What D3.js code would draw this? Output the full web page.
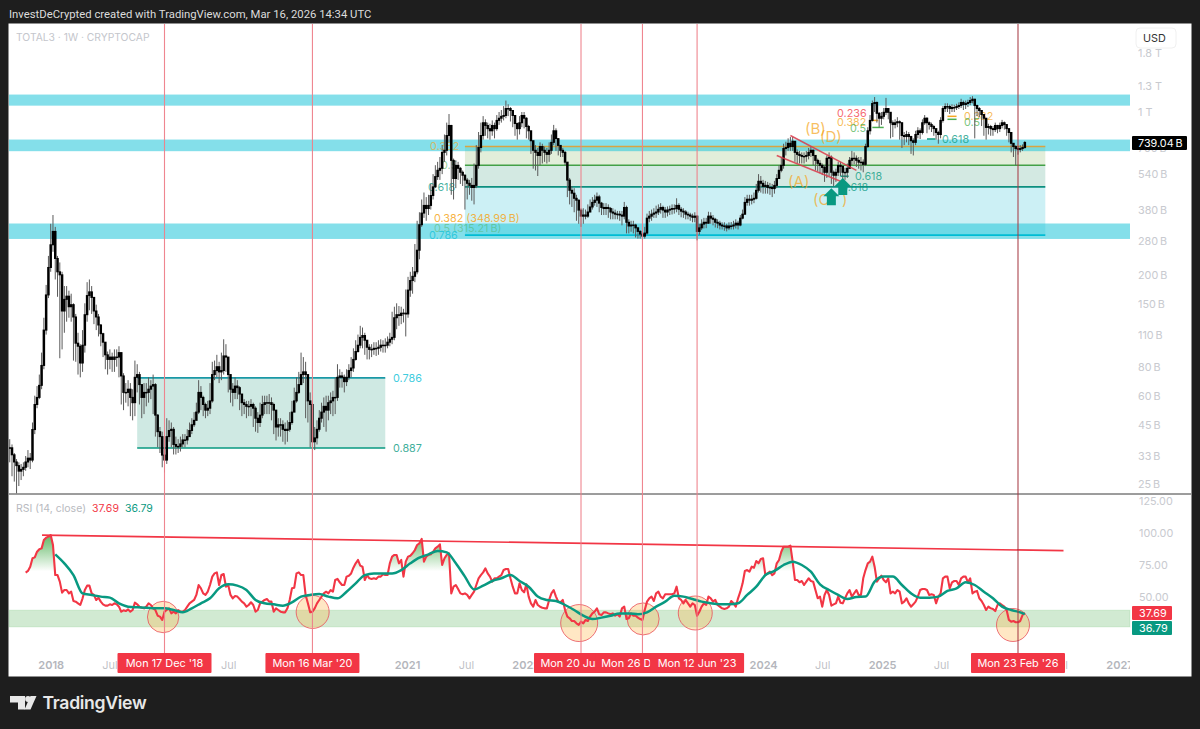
<!DOCTYPE html>
<html>
<head>
<meta charset="utf-8">
<script src="https://cdn.jsdelivr.net/npm/d3@7"></script>
<style>
  html, body { margin: 0; background: #1e1e1e; }
  svg { display: block; font-family: Inter, Roboto, sans-serif; }
</style>
</head>
<body>
<svg id="chart" width="1200" height="729"></svg>
<script>
// TOTAL3 weekly, billions. One entry per week from 28 Aug 2017
const closes = [
35.8,33.4,31.1,30,28.4,28.9,29.5,31.1,32.3,31.7,
42.9,55,59,66.5,81,115,163,214,268,306,
234,205,199,139,156,161,145,148,131,101,
98,83,99,134,162,168,159,139,131,121,
111,102,90,86,88,86,88,88,92,73,
62,62,64,59,56,72,74,67,59,62,
62,64,66,67,49.5,42,40,33.3,31.7,40,
42.5,43,37,36.3,36.3,37.2,38.7,38.7,40,42.5,
45,47,51,62,59,55,52,53,57,74,
77,80,76,77,89,88,74,64,62,66,
65,61,56,55,54,54,55,53,48,46,
49.5,55,56,56,56,55,52,44,45,45,
43,42.5,43,46,51,57,62,67,74,76,
74,57,55,38,39.5,43,48,51,54,52,
56,57,59,59,72,73,72,69,72,77,
79,86,93,99,107,109,104,97,95,95,
96,96,97,99,99,99,102,105,107,130,
134,133,136,136,135,171,188,196,205,254,
327,367,396,384,396,437,476,527,561,572,
670,684,792,875,619,517,589,572,550,534,
509,493,483,473,483,589,703,792,899,875,
848,830,875,848,920,940,958,966,1035,1035,
1015,966,892,848,899,966,940,866,830,752,
684,670,650,710,684,670,657,684,740,830,
768,718,684,670,608,509,460,447,425,417,
378,356,360,356,371,390,408,417,431,405,
388,384,388,384,371,367,363,363,360,356,
388,335,323,326,326,317,306,298,292,301,
349,356,363,367,371,381,388,378,371,378,
381,384,384,396,381,374,371,363,360,356,
352,356,306,317,329,335,332,356,349,345,
335,332,326,323,323,317,323,323,326,332,
326,349,363,408,421,417,421,425,460,503,
493,478,483,473,473,468,483,517,561,589,
696,703,733,710,748,670,657,650,644,644,
650,670,684,650,619,601,589,577,550,632,
638,550,534,550,589,583,550,550,572,619,
632,632,619,608,608,595,710,830,920,1088,
1099,987,940,958,997,1035,997,899,883,899,
908,899,792,784,800,784,752,740,800,830,
816,899,940,899,883,866,848,816,800,920,
1035,1056,1056,1035,1046,1046,1056,1067,1099,1077,
1088,1099,1120,1135,1067,1035,1015,975,940,858,
866,848,840,875,848,875,899,883,848,816,
733,710,696,690,696,703,739.04]

const highs = [
39,37,34,32,31,30.5,31,33,35,34,
46,60,66,74,92,130,180,240,330,360,
320,240,225,205,178,178,170,165,150,135,
112,100,115,150,185,190,178,160,148,135,
122,112,100,93,95,92,95,95,98,92,
75,68,70,68,64,85,82,76,67,68,
68,72,70,74,68,50,44,42,36,48,
47,46,44,40,39,40,41,41,43,46,
48,51,56,70,66,60,56,57,68,84,
85,90,84,92,105,100,88,72,68,72,
70,66,60,58,57,57,58,56,54,51,
56,60,60,60,61,59,56,48,48,48,
47,46,47,51,57,65,72,76,92,88,
84,66,62,56,44,47,52,56,59,60,
60,62,63,72,82,78,76,74,78,82,
88,96,104,110,120,118,112,102,100,100,
102,102,104,105,104,106,108,112,138,145,
150,146,145,142,172,195,205,215,270,340,
370,420,450,430,440,490,540,590,610,640,
720,800,900,980,880,630,620,610,580,560,
540,520,510,520,600,720,820,900,960,930,
900,890,920,900,970,1000,1020,1060,1120,1080,
1050,1000,930,900,960,1000,1000,950,880,790,
740,720,700,740,730,710,700,740,800,880,
850,770,720,700,680,600,520,480,470,440,
420,385,385,380,400,420,430,440,450,440,
410,405,405,400,390,385,380,375,375,375,
410,395,345,340,340,330,320,310,305,320,
365,375,380,385,395,400,405,395,390,392,
395,400,400,425,405,390,385,378,372,368,
365,370,360,330,345,350,350,372,370,360,
350,345,340,335,335,330,335,336,340,345,
340,360,380,430,440,440,440,450,490,540,
530,510,505,500,495,490,505,540,590,640,
730,745,770,780,780,750,690,680,670,670,
680,700,710,690,650,630,620,600,590,650,
670,650,560,570,610,610,590,575,600,640,
680,670,650,640,640,625,730,860,970,1120,
1160,1110,1000,1000,1040,1150,1040,960,920,930,
950,920,905,820,830,820,790,770,830,860,
850,930,970,950,910,900,880,850,830,950,
1060,1090,1090,1075,1080,1075,1085,1100,1140,1120,
1120,1130,1160,1170,1140,1075,1050,1010,980,900,
890,880,870,900,880,900,925,910,885,850,
820,735,720,715,720,725,750]

const lows = [
31,27,25.6,22.8,24.5,26,27,28.5,29.5,29,
31,41,53,58,64,78,110,158,205,250,
190,160,87,95,112,125,130,125,85,84,
74,72,76,92,125,140,135,122,115,108,
98,88,78,74,78,76,76,80,72,55,
52,56,54,49,47,49,62,55,48,50,
54,56,58,50,40,36,34,29.5,28,30.5,
38,36,33.5,33.5,34,34.5,36,36,37,40,
41,44,47,50,52,49,48,49,50,56,
70,72,68,70,74,76,62,56,54,58,
58,52,49,50,48,49,49,44,42,41.5,
44,48,50,50,50,47,41,38.5,40,40,
38,37,38,42,45,51,56,61,70,68,
48,46,36,26,35,37,42,46,44,42,
47,50,49,50,57,65,65,62,66,70,
72,76,85,92,96,96,90,86,86,88,
90,89,90,93,92,92,96,98,100,104,
116,120,122,124,108,130,160,165,185,200,
232,320,350,340,360,380,420,470,510,510,
540,610,650,740,440,420,470,510,490,480,
380,420,440,415,400,470,570,670,760,790,
770,760,790,770,830,880,900,920,940,960,
910,860,790,760,800,860,850,770,760,660,
570,560,530,590,600,610,600,610,660,720,
680,650,640,640,590,430,400,390,370,340,
330,320,330,345,350,370,380,395,390,370,
360,360,360,350,345,345,345,345,340,325,
345,300,300,305,300,288,285,285,283,285,
295,335,340,350,350,360,365,350,350,355,
360,362,365,370,360,352,350,345,345,340,
335,335,280,296,310,315,316,330,330,325,
318,316,312,312,308,306,310,312,312,315,
312,322,345,360,395,395,400,405,420,450,
450,445,445,445,440,430,445,470,515,550,
570,650,680,680,680,610,600,600,600,600,
610,625,640,590,560,555,545,535,500,520,
530,490,480,500,530,530,500,510,520,580,
590,595,580,570,560,550,585,700,800,910,
1000,900,860,880,930,970,930,770,780,850,
860,760,700,720,740,720,660,650,720,770,
765,800,880,810,840,820,790,760,730,770,
900,1000,1000,980,1000,1000,1020,1030,1040,1020,
1030,1050,1070,1090,770,960,950,870,790,760,
800,790,790,820,810,820,850,840,790,740,
670,640,590,655,670,680,695]

// RSI(14) starts on week 7
const rsiStart = 7
const rsi = [
68.9,70.2,73.5,80,80.7,85.1,87,87.7,94.2,96,96.8,98,90.3,67,67,61.9,53.4,55.4,55.4,52.8,54.1,46.9,46.4,45.1,43.8,49,55.4,58.8,58.8,52.8,51.6,47.7,49.5,
46.4,44.3,43.3,43.3,44.3,43.8,45.1,44.3,42.5,38.6,
39.7,39.1,40.4,38.6,39.9,45.6,44.3,42.5,41.7,41.2,
42.5,45.1,43.8,41.2,39.9,35.5,34.8,32.2,38.6,39.9,
41.2,37.3,38.6,37.3,39.9,38.6,38.6,39.9,42.5,45.1,
46.4,47.7,51.6,59.3,56.7,52.8,51.6,54.1,59.3,65.8,
68.3,69.1,59.3,67,67.8,58,59.3,51.6,49,50.8,
50.3,48.4,46.4,45.1,42.5,43.8,45.9,43.8,38.6,39.9,
45.1,46.4,47.7,48.4,46.4,46.4,38.6,41.2,39.9,38.6,
38.1,38.1,41.2,47.7,56.7,57.2,68.3,69.1,67,67,
51.6,45.1,38.1,38.6,41.2,45.1,47.7,50.3,52.8,54.1,
52.8,55.4,54.1,63.2,64,61.4,59.3,59.3,65.8,66.5,
68.3,72.7,76.1,78.7,74.3,73.5,63.2,67,64.5,64,
64.5,64,65.8,65.8,67.6,67,67,76.1,81.3,82.6,
82.6,76.1,78.7,65.8,77.4,81.3,82,83.9,86.4,90.3,
91.6,95,77.4,81.3,82.6,83.1,85.1,87.7,89,90.8,
74.8,80,82.6,83.9,52.8,58,59.3,56.2,52.8,52.1,
52.8,51.6,49,51.6,54.1,59.3,64.5,67,69.1,72.2,
68.3,65.8,61.9,64.5,64.5,65.8,67,70.9,71.7,71.7,
64.5,58,52.8,52.8,60.6,55.4,53.6,59.8,50.3,45.1,
42.5,47.7,43.8,42.5,41.7,41.2,41.2,47.7,52.8,55.4,
50.3,46.4,45.9,47.7,39.9,34.8,33.5,31.4,31.4,29.6,
28.3,30.9,29.6,32.2,31.4,34.8,37.3,38.6,41.2,36.6,
36,38.1,38.1,37.3,36.6,37.3,35.5,36.6,34.8,41.2,
42.5,32.9,33.5,37.3,35.5,35.5,34,32.9,32.2,39.9,
46.4,49,50.3,46.9,52.8,54.1,50.3,49,52.1,52.1,
52.1,52.1,52.8,58,49,47.7,45.1,47.7,45.1,42.5,
45.1,43.8,35.5,38.6,42.5,45.1,43.8,50.3,49,46.4,
47.7,43.8,42.5,41.2,40.7,41.2,42.5,46.9,45.1,42.5,
49,54.1,60.6,70.2,70.9,69.6,73.5,72.7,77.9,76.1,
79.5,80,67,68.3,69.6,67,68.3,76.1,78.7,85.1,
89,89,89,89.8,77.4,63.2,63.2,61.4,62.4,59.3,
61.9,64.5,62.4,61.9,55.4,49,50.3,42.5,51.6,55.4,
51.6,43.3,44.3,45.1,50.3,45.6,45.1,49,52.8,55.4,
50.3,52.8,55.4,51.6,51.6,64.5,70.9,76.1,77.4,81.3,
73.5,61.9,64.5,66.5,63.2,61.4,64.5,52.8,54.1,52.8,
55.4,54.1,45.1,46.4,49,45.1,42.5,44.3,46.4,50.3,
55.4,56.2,56.2,55.4,51.6,52.1,51.6,45.1,50.3,52.8,
64.5,65.8,65.8,56.7,61.4,62.4,62.4,59.3,64.5,65.8,
65.8,61.4,64.5,52.8,54.1,54.7,49,46.9,43.8,39.9,
42.5,41.2,40.7,39.1,43.8,45.1,43.8,42.5,39.9,32.2,
30.9,31.4,30.4,30.4,31.4,36,37.69]

// RSI moving average, read every 4th week from week 20, then the last week
const maWeeks = d3.range(20, 445, 4).concat(446)
const rsiMa = [
83.1,76.1,67,52.8,51.6,50.3,49.5,45.1,42.5,42,41.7,41.2,41.2,39.9,38.1,41.2,45.1,49,56.7,59.8,
58.8,55.4,47.7,45.1,44.3,43.3,45.9,50.3,51.6,52.3,50.3,49,54.1,60.6,67,68.3,68.3,68.3,70.9,76.1,
80.5,83.1,85.7,84.6,76.1,65.8,55.9,58.8,62.4,64.5,67,62.4,58,50.3,47.7,46.9,43.8,39.9,35.5,32.9,
34,35.5,37.3,37.3,36.6,38.1,42.5,46.4,51,50.3,48.4,46.4,45.1,44.3,44.3,45.1,51.6,58,67,70.2,74.8,
77.4,74.8,69.6,59.8,55.4,51.6,48.4,50,50.3,61.9,65.8,65.8,59.3,52.8,49.5,49.5,50.3,54.7,56.7,61.4,59.3,54.1,49,42.5,39.9,38.1,
36.79]

const priceTicks = [1800, 1300, 1000, 700, 540, 380, 280, 200, 150, 110, 80, 60, 45, 33, 25]
const rsiTicks = [125, 100, 75, 50]
// ticks fully under the red date tags are left out
const monthTicks = ['2018-01-01','2018-07-01','2019-07-01','2021-01-01','2021-07-01','2022-01-01','2024-01-01','2024-07-01','2025-01-01','2025-07-01','2026-07-01','2027-01-01']

// resistance/support zones (price low, price high)
const zoneLows = [1065, 678, 284]
const zoneHighs = [1189, 761, 331]

// big fib box: weeks and levels
const fibWeeks = [200, 455]
const fibLevels = [710, 590, 476, 295]
// lower fib box
const boxWeeks = [56, 165]
const boxLevels = [71.6, 35.7]

const markedWeeks = [68, 133, 251, 278, 302, 443]
const markedLabels = ["Mon 17 Dec '18", "Mon 16 Mar '20", "Mon 20 Jun '22", "Mon 26 Dec '22", "Mon 12 Jun '23", "Mon 23 Feb '26"]

const circleWeeks = [67.4, 133.1, 250.2, 278.3, 301.2, 440.8]
const circleRsi = [34.5, 38.4, 29.8, 33, 37.6, 28.3]

// channel lines on the price pane [week, price, week, price]
const channelA = [[343, 792], [372, 561]]
const channelB = [[337, 650], [365, 503]]
const rsiTrend = [[14.2, 98], [463, 85.9]]

const lowerNotes = ['0.382', '0.5', '0.618', '0.382 (348.99\u2009B)', '0.5 (315.21\u2009B)', '0.786', '0.786', '0.887']
const lowerNoteWeeks = [184.7, 189.5, 183.8, 186.4, 186.4, 184.2, 168.4, 168.4]
const lowerNotePrices = [710, 590, 476, 349, 315, 295, 71.6, 35.7]

const upperNotes = ['0.236', '0.382', '0.5', '0.382', '0.5', '0.618', '0.618', '0.618']
const upperNoteWeeks = [363.5, 363.5, 369.2, 419.3, 419.3, 409.6, 371.4, 365.3]
const upperNotePrices = [987, 908, 848, 958, 908, 765, 529, 476]

const waveNotes = ['(A)', '(B)', '(D)', '(C   )']
const waveWeeks = [342, 349.4, 356, 352.9]
const wavePrices = [503, 848, 784, 417]

const fibTickStart = [379, 379, 412, 412, 403, 365]
const fibTickEnd = [381.6, 384, 416, 416, 406.7, 368.6]
const fibTickPrice = [920, 858, 958, 930, 765, 529]

const arrowWeeks = [361, 366]
const arrowPrices = [470, 520]

const lastPrice = 739.04
const lastRsi = 37.69
const lastMa = 36.79

const weekDate = i => new Date(Date.UTC(2017, 7, 28) + i * 7 * 864e5)

const svg = d3.select('#chart')
const RED = '#f23645', TEAL = '#089981', ORANGE = '#f5a623', GREEN = '#4caf50', CYAN = '#26c6da'
const paneLeft = 9, paneRight = 1130, paneTop = 24, paneBottom = 494

// panel
svg.append('rect').attr('width', 1200).attr('height', 729).attr('fill', '#1e1e1e')
svg.append('rect').attr('x', 8.5).attr('y', 23.5).attr('width', 1183).attr('height', 653).attr('fill', '#fff')

svg.append('text').attr('x', 9).attr('y', 18).attr('fill', '#dcdcdc').attr('font-size', 11.3).attr('font-family', 'Roboto, sans-serif')
    .text('InvestDeCrypted created with TradingView.com, Mar 16, 2026 14:34 UTC')

const defs = svg.append('defs')
defs.append('clipPath').attr('id', 'priceClip').append('rect')
    .attr('x', paneLeft).attr('y', paneTop).attr('width', paneRight - paneLeft).attr('height', paneBottom - paneTop)
defs.append('clipPath').attr('id', 'timeClip').append('rect')
    .attr('x', paneLeft).attr('y', 645).attr('width', paneRight - paneLeft).attr('height', 31)

// scales
const x = d3.scaleUtc().domain([new Date(Date.UTC(2018, 11, 17)), new Date(Date.UTC(2026, 1, 23))]).range([164.5, 1018])
const xw = w => x(weekDate(w))
const y = d3.scaleLog().domain([25, 1000]).range([484, 112])
const yr = d3.scaleLinear().domain([50, 100]).range([597, 532.5])

const pane = svg.append('g').attr('clip-path', 'url(#priceClip)')

// fib box big
const fx0 = xw(fibWeeks[0]), fx1 = xw(fibWeeks[1])
const fibFills = ['#e2eeda', '#d3e9e2', '#ccf0f5']
d3.range(3).forEach(i => {
    pane.append('rect').attr('x', fx0).attr('width', fx1 - fx0)
        .attr('y', y(fibLevels[i])).attr('height', y(fibLevels[i + 1]) - y(fibLevels[i]))
        .attr('fill', fibFills[i])
})

// zones
zoneLows.forEach((lo, i) => {
    pane.append('rect').attr('x', paneLeft).attr('width', paneRight - paneLeft)
        .attr('y', y(zoneHighs[i])).attr('height', y(lo) - y(zoneHighs[i]))
        .attr('fill', '#26c6da').attr('fill-opacity', 0.57)
})

const fibColors = ['#d9a441', '#43a047', '#0d8f7f', '#00bcd4']
fibLevels.forEach((lv, i) => {
    pane.append('line').attr('x1', fx0).attr('x2', fx1).attr('y1', y(lv)).attr('y2', y(lv))
        .attr('stroke', fibColors[i]).attr('stroke-width', 1.6)
})

// lower box
const bx0 = xw(boxWeeks[0]), bx1 = xw(boxWeeks[1])
pane.append('rect').attr('x', bx0).attr('width', bx1 - bx0)
    .attr('y', y(boxLevels[0])).attr('height', y(boxLevels[1]) - y(boxLevels[0])).attr('fill', '#cfe9e3')
const boxColors = ['#1a98a6', TEAL]
boxLevels.forEach((lv, i) => {
    pane.append('line').attr('x1', bx0).attr('x2', bx1).attr('y1', y(lv)).attr('y2', y(lv))
        .attr('stroke', boxColors[i]).attr('stroke-width', 1.6)
})

// notes under the candles
const lowerColors = [ORANGE, GREEN, TEAL, ORANGE, GREEN, CYAN, CYAN, TEAL]
const lowerOpacity = [0.65, 0.6, 0.75, 0.85, 0.45, 0.9, 0.9, 0.8]
pane.selectAll('.lowerNote').data(lowerNotes).join('text')
    .attr('x', (d, i) => xw(lowerNoteWeeks[i])).attr('y', (d, i) => y(lowerNotePrices[i]))
    .attr('dy', '0.35em').attr('font-size', 10.8)
    .attr('fill', (d, i) => lowerColors[i]).attr('fill-opacity', (d, i) => lowerOpacity[i])
    .text(d => d)

const upperColors = [RED, ORANGE, GREEN, ORANGE, GREEN, TEAL, TEAL, TEAL]
pane.selectAll('.upperNote').data(upperNotes).join('text')
    .attr('x', (d, i) => xw(upperNoteWeeks[i])).attr('y', (d, i) => y(upperNotePrices[i]))
    .attr('dy', '0.35em').attr('font-size', 10.8)
    .attr('fill', (d, i) => upperColors[i]).attr('fill-opacity', 0.75)
    .text(d => d)

pane.selectAll('.wave').data(waveNotes).join('text')
    .attr('x', (d, i) => xw(waveWeeks[i])).attr('y', (d, i) => y(wavePrices[i]))
    .attr('dy', '0.35em').attr('font-size', 15)
    .attr('fill', ORANGE).attr('fill-opacity', 0.72)
    .style('white-space', 'pre')
    .text(d => d)

fibTickStart.forEach((s, i) => {
    pane.append('line').attr('x1', xw(s)).attr('x2', xw(fibTickEnd[i]))
        .attr('y1', y(fibTickPrice[i])).attr('y2', y(fibTickPrice[i]))
        .attr('stroke', [ORANGE, GREEN, ORANGE, GREEN, TEAL, TEAL][i]).attr('stroke-width', 1.5)
})

// candles
const weeks = d3.range(closes.length)
pane.selectAll('.wick').data(weeks).join('line')
    .attr('x1', i => xw(i)).attr('x2', i => xw(i))
    .attr('y1', i => y(Math.max(highs[i], closes[i], closes[Math.max(i - 1, 0)])))
    .attr('y2', i => y(Math.min(lows[i], closes[i], closes[Math.max(i - 1, 0)])))
    .attr('stroke', '#5a5a5a').attr('stroke-width', 1)
pane.selectAll('.body').data(weeks).join('rect')
    .attr('x', i => xw(i) - 1.25).attr('width', 2.5)
    .attr('y', i => y(Math.max(closes[i], closes[Math.max(i - 1, 0)])) - 0.5)
    .attr('height', i => Math.max(1.5, Math.abs(y(closes[i]) - y(closes[Math.max(i - 1, 0)])) + 1))
    .attr('fill', '#000')

// channel
;[channelA, channelB].forEach(c => {
    pane.append('line').attr('x1', xw(c[0][0])).attr('y1', y(c[0][1])).attr('x2', xw(c[1][0])).attr('y2', y(c[1][1]))
        .attr('stroke', '#d93a4a').attr('stroke-width', 1.5).attr('stroke-opacity', 0.85)
})

// arrows
arrowWeeks.forEach((w, i) => {
    pane.append('path')
        .attr('transform', `translate(${xw(w)},${y(arrowPrices[i])})`)
        .attr('d', 'M0,0 L8,8 L4.5,8 L4.5,17 L-4.5,17 L-4.5,8 L-8,8 Z')
        .attr('fill', TEAL)
})

pane.append('text').attr('x', 16).attr('y', 37).attr('dy', '0.35em').attr('font-size', 10.3)
    .attr('fill', '#c4c6cc').text('TOTAL3 · 1W · CRYPTOCAP')

// pane separator
svg.append('line').attr('x1', paneLeft).attr('x2', 1191).attr('y1', paneBottom).attr('y2', paneBottom)
    .attr('stroke', '#3a3a3a').attr('stroke-width', 1)

// rsi pane
const rsiPts = rsi.map((v, i) => [rsiStart + i, v])
const grad = defs.append('linearGradient').attr('id', 'obFill').attr('gradientUnits', 'userSpaceOnUse')
    .attr('x1', 0).attr('x2', 0).attr('y1', yr(100)).attr('y2', yr(70))
grad.append('stop').attr('offset', 0).attr('stop-color', GREEN).attr('stop-opacity', 0.95)
grad.append('stop').attr('offset', 1).attr('stop-color', GREEN).attr('stop-opacity', 0)

svg.append('rect').attr('x', paneLeft).attr('width', paneRight - paneLeft)
    .attr('y', yr(39.8)).attr('height', yr(26.8) - yr(39.8))
    .attr('fill', '#4caf50').attr('fill-opacity', 0.26)
    .attr('stroke', '#4caf50').attr('stroke-opacity', 0.15)

svg.append('path').datum(rsiPts)
    .attr('d', d3.area().x(d => xw(d[0])).y0(yr(70)).y1(d => yr(Math.max(d[1], 70))))
    .attr('fill', 'url(#obFill)')

circleWeeks.forEach((w, i) => {
    svg.append('circle').attr('cx', xw(w)).attr('cy', yr(circleRsi[i]))
        .attr('r', [15.7, 16.5, 18.5, 16, 17, 16.5][i])
        .attr('fill', '#ffb74d').attr('fill-opacity', 0.33)
        .attr('stroke', '#e8505b').attr('stroke-opacity', 0.8).attr('stroke-width', 1)
})

svg.append('line').attr('x1', xw(rsiTrend[0][0])).attr('y1', yr(rsiTrend[0][1]))
    .attr('x2', xw(rsiTrend[1][0])).attr('y2', yr(rsiTrend[1][1]))
    .attr('stroke', RED).attr('stroke-width', 1.7)

svg.append('path').datum(rsiPts)
    .attr('d', d3.line().x(d => xw(d[0])).y(d => yr(d[1])))
    .attr('fill', 'none').attr('stroke', RED).attr('stroke-width', 2.1).attr('stroke-linejoin', 'round')

svg.append('path').datum(rsiMa.map((v, i) => [maWeeks[i], v]))
    .attr('d', d3.line().curve(d3.curveMonotoneX).x(d => xw(d[0])).y(d => yr(d[1])))
    .attr('fill', 'none').attr('stroke', TEAL).attr('stroke-width', 2.5)

const rsiHead = svg.append('text').attr('y', 508).attr('dy', '0.35em').attr('font-size', 10.5)
rsiHead.append('tspan').attr('x', 16).attr('fill', '#b8bac0').text('RSI (14, close)')
rsiHead.append('tspan').attr('x', 92).attr('fill', RED).text(lastRsi)
rsiHead.append('tspan').attr('x', 125).attr('fill', TEAL).text(lastMa)

// vertical markers
markedWeeks.forEach(w => {
    svg.append('line').attr('x1', xw(w)).attr('x2', xw(w)).attr('y1', paneTop).attr('y2', 655)
        .attr('stroke', w === 443 ? '#a83a44' : '#ee7f8a').attr('stroke-width', 1.1)
        .attr('stroke-opacity', 0.95)
})

// time axis
const timeAxis = d3.axisBottom(x).tickSize(0)
    .tickValues(monthTicks.map(s => new Date(s + 'T00:00:00Z')))
    .tickFormat(d => d.getUTCMonth() === 0 ? d.getUTCFullYear() : 'Jul')
const tg = svg.append('g').attr('clip-path', 'url(#timeClip)').append('g').attr('transform', 'translate(0,665)').call(timeAxis)
tg.select('.domain').remove()
tg.selectAll('text').attr('y', 0).attr('dy', '0.35em').attr('font-family', 'Inter, Roboto, sans-serif')
    .attr('font-size', 11).attr('fill', '#b4b6bc')
    .attr('font-weight', d => d.getUTCMonth() === 0 ? 600 : 400)
    .attr('fill-opacity', d => d.getUTCMonth() === 0 ? 1 : 0.85)

// date tags, last drawn wins where they overlap
markedLabels.forEach((label, i) => {
    const cx = xw(markedWeeks[i])
    svg.append('rect').attr('x', cx - 47).attr('y', 653).attr('width', 94).attr('height', 20)
        .attr('rx', 1).attr('fill', RED)
    svg.append('text').attr('x', cx).attr('y', 663).attr('dy', '0.35em').attr('text-anchor', 'middle').attr('font-size', 10.9)
        .attr('fill', '#fff').text(label)
})

// price axis
const fmtPrice = d => d >= 1000 ? (d / 1000) + ' T' : d + '\u2009B'
const yAxis = d3.axisRight(y).tickValues(priceTicks).tickSize(0).tickFormat(fmtPrice)
const ya = svg.append('g').attr('transform', 'translate(1138,0)').call(yAxis)
ya.select('.domain').remove()
ya.selectAll('text').attr('x', 0).attr('dy', '0.35em').attr('font-family', 'Inter, Roboto, sans-serif')
    .attr('font-size', 10.8).attr('fill', '#c8cacf')

const rAxis = d3.axisRight(yr).tickValues(rsiTicks).tickSize(0).tickFormat(d3.format('.2f'))
const ra = svg.append('g').attr('transform', 'translate(1139,0)').call(rAxis)
ra.select('.domain').remove()
ra.selectAll('text').attr('x', 0).attr('dy', '0.35em').attr('font-family', 'Inter, Roboto, sans-serif')
    .attr('font-size', 10.8).attr('fill', '#c8cacf')

// USD button
svg.append('rect').attr('x', 1136).attr('y', 28).attr('width', 40).attr('height', 20).attr('rx', 4).attr('fill', '#fff').attr('stroke', '#f0f0f0')
svg.append('text').attr('x', 1143).attr('y', 38).attr('dy', '0.35em').attr('font-size', 10.8).attr('fill', '#333').text('USD')

// last value tags, black tag sits over the 700 B tick
svg.append('rect').attr('x', 1132).attr('y', y(lastPrice) - 6.5).attr('width', 55).attr('height', 14).attr('rx', 1).attr('fill', '#000')
svg.append('text').attr('x', 1138).attr('y', y(lastPrice) + 0.5).attr('dy', '0.35em').attr('font-size', 10.8).attr('fill', '#fff').text('739.04\u2009B')
svg.append('rect').attr('x', 1132).attr('y', 606).attr('width', 40).attr('height', 14).attr('rx', 1).attr('fill', RED)
svg.append('text').attr('x', 1139).attr('y', 613).attr('dy', '0.35em').attr('font-size', 10.8).attr('fill', '#fff').text(lastRsi)
svg.append('rect').attr('x', 1132).attr('y', 621).attr('width', 40).attr('height', 14).attr('rx', 1).attr('fill', TEAL)
svg.append('text').attr('x', 1139).attr('y', 628).attr('dy', '0.35em').attr('font-size', 10.8).attr('fill', '#fff').text(lastMa)

// logo
const logo = svg.append('g').attr('fill', '#e8e8e8')
logo.append('path').attr('d', 'M10,696 H25 V709.5 H18 V702.5 H10 Z')
logo.append('circle').attr('cx', 28).attr('cy', 699).attr('r', 2.9)
logo.append('path').attr('d', 'M30.5,696 H36.5 L30.5,709.5 H24.5 Z')
svg.append('text').attr('x', 42.5).attr('y', 703).attr('dy', '0.35em').attr('font-size', 17.6)
    .attr('font-weight', 600).attr('fill', '#e8e8e8').attr('letter-spacing', -0.3).text('TradingView')
</script>
</body>
</html>
